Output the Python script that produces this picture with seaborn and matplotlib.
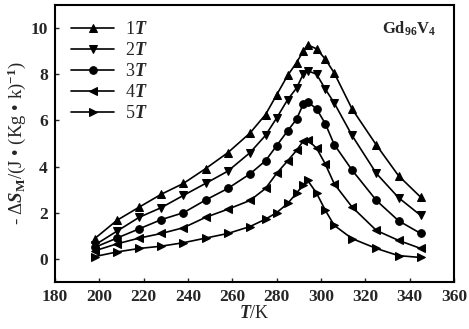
import numpy as np
import pandas as pd
import matplotlib
matplotlib.use("Agg")
import matplotlib.pyplot as plt
import seaborn as sns

T = [198, 208, 218, 228, 238, 248, 258, 268, 275, 280, 285, 289, 292, 294, 298, 302, 306, 314, 325, 335, 345]
s1 = [0.88, 1.67, 2.24, 2.8, 3.27, 3.91, 4.6, 5.45, 6.25, 7.1, 7.95, 8.5, 9.0, 9.27, 9.1, 8.65, 8.05, 6.5, 4.93, 3.6, 2.67]
s2 = [0.6, 1.2, 1.8, 2.22, 2.75, 3.27, 3.8, 4.6, 5.35, 6.1, 6.9, 7.4, 8.0, 8.15, 8.0, 7.35, 6.75, 5.35, 3.7, 2.65, 1.88]
s3 = [0.5, 0.9, 1.3, 1.7, 2.0, 2.55, 3.05, 3.68, 4.25, 4.9, 5.55, 6.05, 6.7, 6.8, 6.5, 5.85, 4.95, 3.85, 2.53, 1.65, 1.1]
s4 = [0.35, 0.65, 0.9, 1.1, 1.35, 1.8, 2.15, 2.53, 3.05, 3.7, 4.25, 4.7, 5.1, 5.15, 4.8, 4.1, 3.25, 2.25, 1.23, 0.8, 0.45]
s5 = [0.1, 0.3, 0.45, 0.55, 0.7, 0.9, 1.1, 1.4, 1.72, 2.0, 2.4, 2.85, 3.2, 3.4, 2.85, 2.1, 1.45, 0.88, 0.45, 0.14, 0.06]
labels = ["1$\\mathit{T}$", "2$\\mathit{T}$", "3$\\mathit{T}$", "4$\\mathit{T}$", "5$\\mathit{T}$"]
xticks = [180, 200, 220, 240, 260, 280, 300, 320, 340, 360]
yticks = [0, 2, 4, 6, 8, 10]

rows = []
for lab, s in zip(labels, [s1, s2, s3, s4, s5]):
    for t, v in zip(T, s):
        rows.append({"T": t, "v": v, "field": lab})
df = pd.DataFrame(rows)

sns.set_style("ticks")
plt.rcParams["font.family"] = ["Liberation Serif", "DejaVu Serif"]
plt.rcParams["font.weight"] = "bold"
plt.rcParams["mathtext.fontset"] = "custom"
plt.rcParams["mathtext.rm"] = "Liberation Serif:bold"
plt.rcParams["mathtext.it"] = "Liberation Serif:italic"
plt.rcParams["mathtext.bf"] = "Liberation Serif:bold"

fig = plt.figure(figsize=(4.69, 3.29), dpi=100)
ax = fig.add_axes([0.117, 0.143, 0.851, 0.842])

sns.lineplot(data=df, x="T", y="v", hue="field", style="field",
             markers=["^", "v", "o", "<", ">"], dashes=False,
             palette=["black"] * 5, markersize=5.5, linewidth=1.2,
             markeredgecolor="black", ax=ax, sort=False)

ax.set_xlim(180, 360)
ax.set_ylim(-1, 11)
ax.set_xticks(xticks)
ax.set_yticks(yticks)
ax.tick_params(direction="in", length=3, width=1, labelsize=12.5, top=False, right=False, pad=5)
for lbl in ax.get_xticklabels() + ax.get_yticklabels():
    lbl.set_fontweight("bold")
for sp in ax.spines.values():
    sp.set_linewidth(1.5)
    sp.set_color("black")

ax.set_xlabel("$\\mathit{T}$/K", fontsize=13, labelpad=0)
ax.set_ylabel("- Δ$\\mathit{S}_\\mathrm{M}$/(J • (Kg • k)$^{-1}$)", fontsize=13.5, labelpad=2)

leg = ax.legend(loc="upper left", frameon=False, fontsize=13, handlelength=2.4,
                labelspacing=0.22, borderaxespad=0.6, handletextpad=0.6,
                borderpad=0.3)
for txt in leg.get_texts():
    txt.set_fontweight("normal")

ax.text(0.955, 0.915, "Gd$_{96}$V$_{4}$", transform=ax.transAxes, ha="right", va="center",
        fontsize=12, fontweight="bold")

fig.savefig("out.png", dpi=100)
